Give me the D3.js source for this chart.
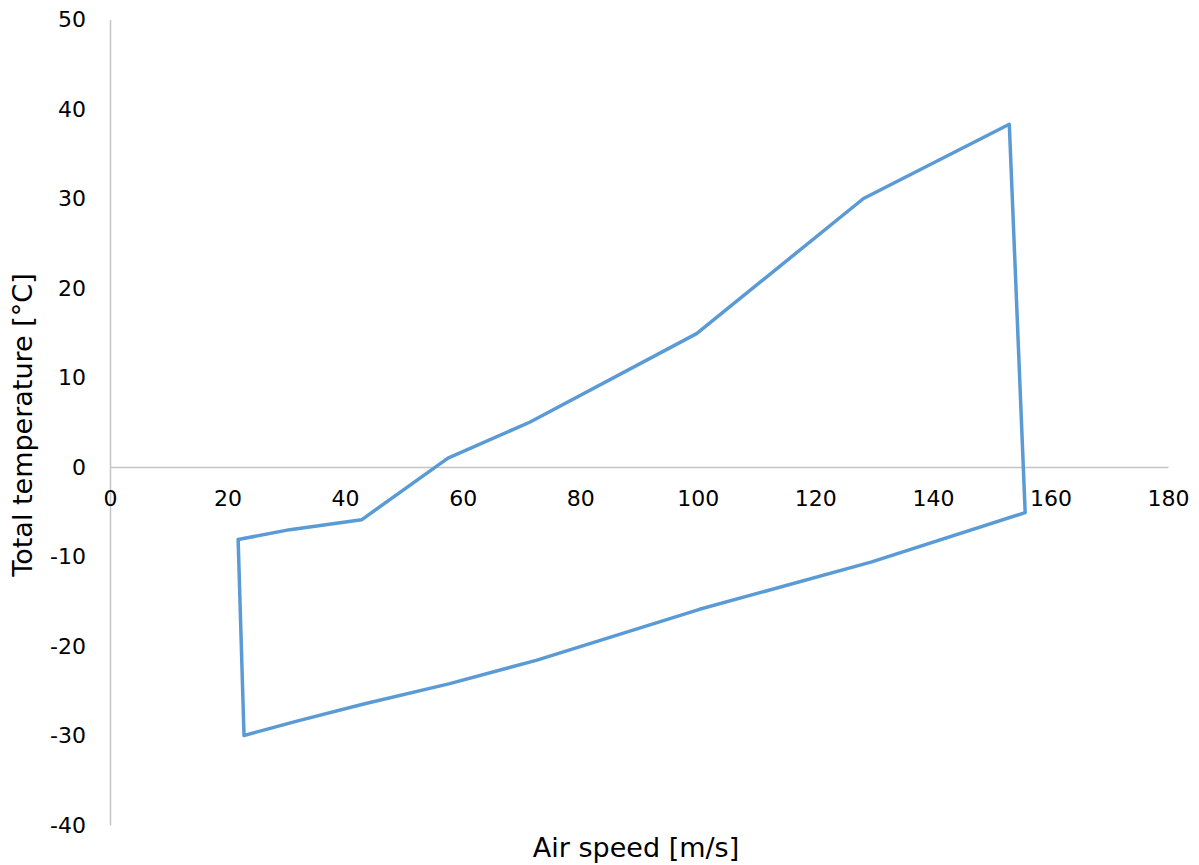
<!DOCTYPE html>
<html>
<head>
<meta charset="utf-8">
<script src="https://cdn.jsdelivr.net/npm/d3@7"></script>
<style>
  html, body { margin: 0; padding: 0; background: #fff; }
  svg { display: block; font-family: "DejaVu Sans", Verdana, sans-serif; }
</style>
</head>
<body>
<svg id="chart" width="1199" height="865"></svg>
<script>
// envelope traced clockwise from the low-speed corner
const airSpeed  = [21.8, 30.6, 42.8, 57.5, 71.4, 99.8, 128.2, 153.0, 155.7, 129.6, 100.3, 72.5, 57.8, 43.0, 31.8, 22.8];
const totalTemp = [-8.1, -7.0, -5.9, 1.0, 5.0, 14.9, 30.0, 38.3, -5.1, -10.6, -15.9, -21.6, -24.2, -26.5, -28.4, -30.0];
const xTicks = [0, 20, 40, 60, 80, 100, 120, 140, 160, 180];
const yTicks = [-40, -30, -20, -10, 0, 10, 20, 30, 40, 50];

const svg = d3.select('#chart');
const width = 1199, height = 865;
const margin = { top: 19.5, right: 31, bottom: 40, left: 110 };

const x = d3.scaleLinear().domain([0, 180]).range([margin.left, width - margin.right]);
const y = d3.scaleLinear().domain([-40, 50]).range([height - margin.bottom, margin.top]);

const axisColor = '#c4c4c4';
const fmt = d => String(d); // plain hyphen minus like the original

// y axis at x = 0
const yAxis = svg.append('g')
  .attr('transform', `translate(${x(0)},0)`)
  .call(d3.axisLeft(y).tickValues(yTicks).tickFormat(fmt).tickSize(0).tickPadding(24));
yAxis.select('.domain').attr('stroke', axisColor).attr('stroke-width', 1.5);
yAxis.selectAll('text').attr('font-size', 22).attr('fill', '#000')
  .attr('font-family', '"DejaVu Sans", Verdana, sans-serif');

// x axis at y = 0
const xAxis = svg.append('g')
  .attr('transform', `translate(0,${y(0)})`)
  .call(d3.axisBottom(x).tickValues(xTicks).tickFormat(fmt).tickSize(0).tickPadding(23));
xAxis.select('.domain').attr('stroke', axisColor).attr('stroke-width', 1.5);
xAxis.selectAll('text').attr('font-size', 22).attr('fill', '#000')
  .attr('font-family', '"DejaVu Sans", Verdana, sans-serif');

const pts = airSpeed.map((v, i) => [v, totalTemp[i]]);
const line = d3.line().x(d => x(d[0])).y(d => y(d[1])).curve(d3.curveLinearClosed);

svg.append('path')
  .datum(pts)
  .attr('d', line)
  .attr('fill', 'none')
  .attr('stroke', '#5b9bd5')
  .attr('stroke-width', 3.5)
  .attr('stroke-linejoin', 'round');

svg.append('text')
  .attr('x', 636)
  .attr('y', 857)
  .attr('text-anchor', 'middle')
  .attr('font-size', 27)
  .text('Air speed [m/s]');

svg.append('text')
  .attr('transform', `translate(32,425) rotate(-90)`)
  .attr('text-anchor', 'middle')
  .attr('font-size', 27)
  .text('Total temperature [°C]');
</script>
</body>
</html>
